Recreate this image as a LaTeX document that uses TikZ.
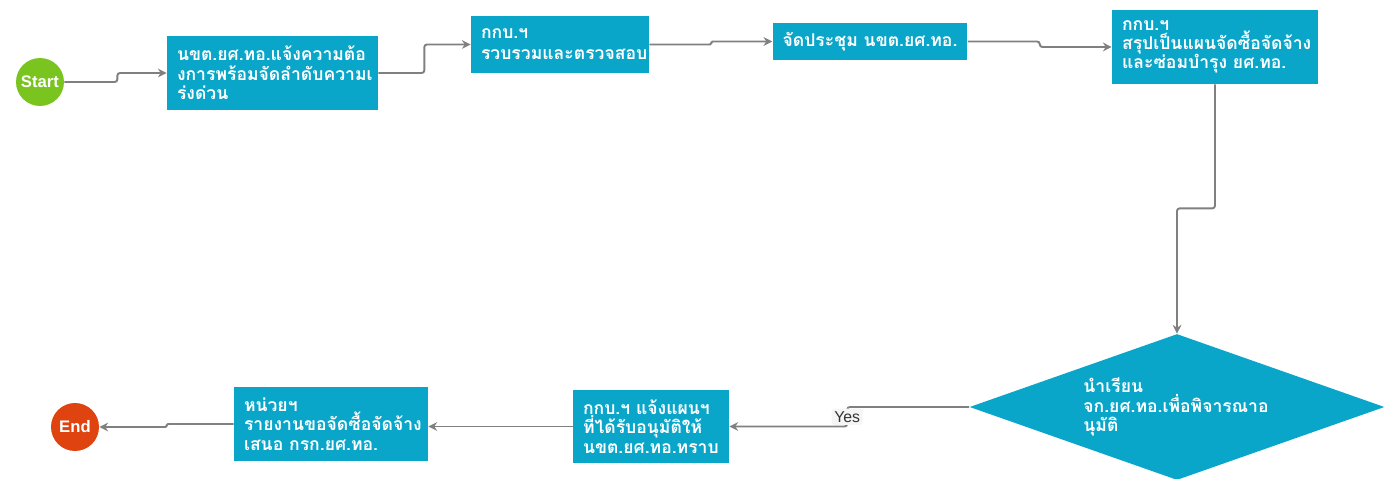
\documentclass[tikz,border=0pt]{standalone}
\usepackage{fontspec}
\setmainfont{Liberation Sans}
\newfontfamily\thaifont[Script=Thai]{Loma}
\usepackage{tikz}
\usetikzlibrary{calc}
\usetikzlibrary{shapes}
\usetikzlibrary{arrows.meta}
\definecolor{boxblue}{RGB}{10,166,202}
\definecolor{startgreen}{RGB}{122,196,31}
\definecolor{endred}{RGB}{222,67,16}
\definecolor{linegray}{RGB}{128,128,128}
\tikzset{
  stepbox/.style={rectangle, fill=boxblue, text=white, align=left, inner xsep=0.2cm,
    font=\thaifont\bfseries\fontsize{10}{11}\selectfont},
  decbox/.style={diamond, fill=boxblue, inner sep=0pt,
    minimum width=8.3cm, minimum height=2.92cm},
  dectext/.style={text=white, align=left, inner sep=0pt,
    font=\thaifont\bfseries\fontsize{10}{11}\selectfont},
  term/.style={circle, minimum size=0.96cm, inner sep=0pt, text=white,
    font=\bfseries\fontsize{9.5}{11}\selectfont},
  flow/.style={draw=linegray, line width=1.1pt, rounded corners=1.5pt, -{Stealth[length=5pt,width=5pt]}},
  yeslbl/.style={fill=gray!8, inner sep=1.5pt, text=black!80, font=\fontsize{9}{10}\selectfont}
}

\begin{document}
\begin{tikzpicture}[x=0.02cm, y=-0.02cm]
        \useasboundingbox (0,0) rectangle (1391,479);
        % top row
        \node[term, fill=startgreen] (start) at (40,82) {Start};
        \node[stepbox, text width=3.82cm, minimum height=1.48cm] (notify) at (272.5,73)
          {นขต.ยศ.ทอ.แจ้งความต้อ\\งการพร้อมจัดลำดับความเ\\ร่งด่วน};
        \node[stepbox, text width=3.16cm, minimum height=1.14cm] (collect) at (560,44.5)
          {กกบ.ฯ\\[1pt]รวบรวมและตรวจสอบ};
        \node[stepbox, minimum width=3.84cm, minimum height=0.74cm] (meet) at (870,41.5)
          {จัดประชุม นขต.ยศ.ทอ.};
        \node[stepbox, text width=3.72cm, minimum height=1.48cm] (plan) at (1215,47)
          {กกบ.ฯ\\สรุปเป็นแผนจัดซื้อจัดจ้าง\\และซ่อมบำรุง ยศ.ทอ.};
        % bottom row
        \node[decbox] (approve) at (1177,407) {};
        \node[dectext] (approvetext) at (1176,407)
          {นำเรียน\\จก.ยศ.ทอ.เพื่อพิจารณาอ\\นุมัติ};
        \node[stepbox, text width=2.72cm, minimum height=1.46cm] (inform) at (651,426.5)
          {กกบ.ฯ แจ้งแผนฯ\\ที่ได้รับอนุมัติให้\\นขต.ยศ.ทอ.ทราบ};
        \node[stepbox, text width=3.48cm, minimum height=1.48cm] (report) at (331,424)
          {หน่วยฯ\\รายงานขอจัดซื้อจัดจ้าง\\เสนอ กรก.ยศ.ทอ.};
        \node[term, fill=endred] (stop) at (75,427) {End};

        % connectors
        \draw[flow] (start.east) -- ++(53,0) |- (notify.west);
        \draw[flow] (notify.east) -- ++(46,0) |- (collect.west);
        \draw[flow, rounded corners=0.7pt] (collect.east) -- ++(62,0) |- (meet.west);
        \draw[flow] (meet.east) -- ++(72,0) |- (plan.west);
        \draw[flow] (plan.south) -- ++(0,124) -| (approve.north);
        \draw[flow] (approve.west) -- ++(-122,0) |- node[yeslbl, pos=0.25] {Yes} (inform.east);
        \draw[flow] (inform.west) -- (inform.west -| report.east);
        \draw[flow, rounded corners=0.7pt] (report.west) -- ++(-67,0) |- (stop.east);
\end{tikzpicture}
\end{document}
